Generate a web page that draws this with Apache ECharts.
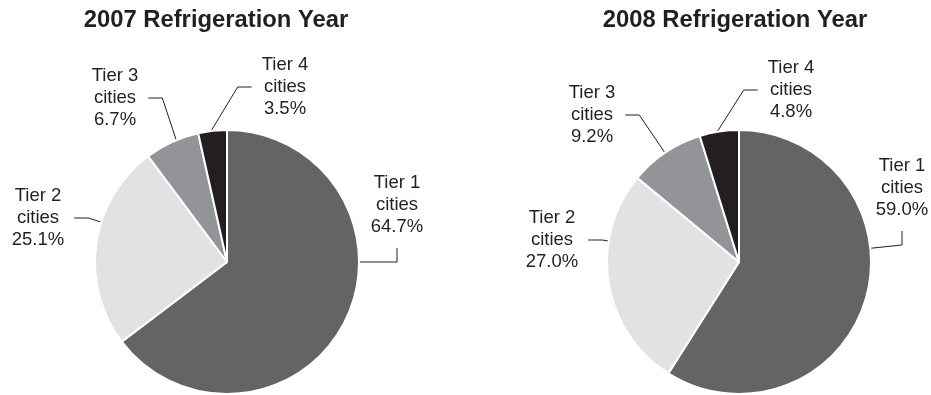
<!DOCTYPE html>
<html>
<head>
<meta charset="utf-8">
<script src="https://cdn.jsdelivr.net/npm/echarts@6/dist/echarts.min.js"></script>
<style>
  html, body { margin: 0; padding: 0; background: #fff; }
  #chart { width: 931px; height: 395px; }
</style>
</head>
<body>
<div id="chart"></div>
<script>
// City tiers and their share of refrigerator sales (%)
const tiers = ['Tier 1', 'Tier 2', 'Tier 3', 'Tier 4'];
const share2007 = [64.7, 25.1, 6.7, 3.5];
const share2008 = [59.0, 27.0, 9.2, 4.8];
const years = ['2007 Refrigeration Year', '2008 Refrigeration Year'];
const shares = [share2007, share2008];

const tierColors = ['#646466', '#e1e2e4', '#939497', '#231f20'];
const textColor = '#231f20';
const fontFamily = '"Liberation Sans", Arial, Helvetica, sans-serif';

// Pie geometry and label block placement (offsets from each pie centre)
const pieCenters = [[227, 262], [739, 262]];
const pieRadius = 132;
const titleCenters = [216, 735];
const labelOffsets = [
  [[170, -57], [-189, -44], [-112, -164], [58, -175]],
  [[163, -74], [-187, -22], [-147, -147], [52, -172]]
];
// side of each label block the leader line leaves from
const leaderSides = ['bottom', 'right', 'right', 'left'];
const leaderGap = 10;   // space between text and leader line
const leaderRun = 14;   // straight run before turning toward the pie

// Start/end angle (degrees clockwise from 12 o'clock) of each slice
function sliceAngles(vals) {
  const total = vals.reduce((a, b) => a + b, 0);
  let acc = 0;
  return vals.map(v => {
    const s = acc / total * 360;
    acc += v;
    return [s, acc / total * 360];
  });
}

function leaderPoints(i, k, rect) {
  const [cx, cy] = pieCenters[i];
  const o = labelOffsets[i][k];
  const lx = cx + o[0], ly = cy + o[1];
  const hw = rect.width / 2, hh = rect.height / 2;
  let p2, p1;
  switch (leaderSides[k]) {
    case 'bottom': p2 = [lx, ly + hh + leaderGap]; p1 = [lx, p2[1] + leaderRun]; break;
    case 'top':    p2 = [lx, ly - hh - leaderGap]; p1 = [lx, p2[1] - leaderRun]; break;
    case 'left':   p2 = [lx - hw - leaderGap, ly]; p1 = [p2[0] - leaderRun, ly]; break;
    default:       p2 = [lx + hw + leaderGap, ly]; p1 = [p2[0] + leaderRun, ly];
  }
  // aim at the pie edge, kept inside the slice's own arc
  const [s, e] = sliceAngles(shares[i])[k];
  const margin = Math.min((e - s) * 0.45, 10);
  let th = Math.atan2(p1[0] - cx, -(p1[1] - cy)) * 180 / Math.PI;
  if (th < 0) th += 360;
  if (th < s - 1e-6 && th + 360 <= e) th += 360;
  th = Math.max(s + margin, Math.min(e - margin, th));
  const r = th * Math.PI / 180;
  const p0 = [cx + pieRadius * Math.sin(r), cy - pieRadius * Math.cos(r)];
  return [p0, p1, p2];
}

const chart = echarts.init(document.getElementById('chart'), null, { renderer: 'canvas' });

chart.setOption({
  animation: false,
  backgroundColor: '#fff',
  title: years.map((y, i) => ({
    text: y,
    left: titleCenters[i],
    top: 8,
    textAlign: 'center',
    padding: 0,
    textStyle: {
      fontFamily: fontFamily,
      fontSize: 23.8,
      fontWeight: 'bold',
      lineHeight: 25,
      color: textColor
    }
  })),
  series: shares.map((vals, i) => ({
    type: 'pie',
    center: pieCenters[i],
    radius: pieRadius,
    startAngle: 90,
    clockwise: true,
    avoidLabelOverlap: false,
    silent: true,
    itemStyle: { borderColor: '#fff', borderWidth: 2 },
    label: {
      show: true,
      position: 'outside',
      formatter: p => p.name + '\ncities\n' + p.value.toFixed(1) + '%',
      color: textColor,
      fontFamily: fontFamily,
      fontSize: 18.5,
      lineHeight: 22,
      align: 'center'
    },
    labelLine: {
      show: true,
      length: 10,
      length2: 14,
      lineStyle: { color: textColor, width: 1 }
    },
    labelLayout: p => {
      const o = labelOffsets[i][p.dataIndex];
      return {
        x: pieCenters[i][0] + o[0],
        y: pieCenters[i][1] + o[1],
        align: 'center',
        verticalAlign: 'middle',
        labelLinePoints: leaderPoints(i, p.dataIndex, p.labelRect)
      };
    },
    data: tiers.map((t, k) => ({
      name: t,
      value: vals[k],
      itemStyle: { color: tierColors[k] }
    }))
  }))
});
</script>
</body>
</html>
